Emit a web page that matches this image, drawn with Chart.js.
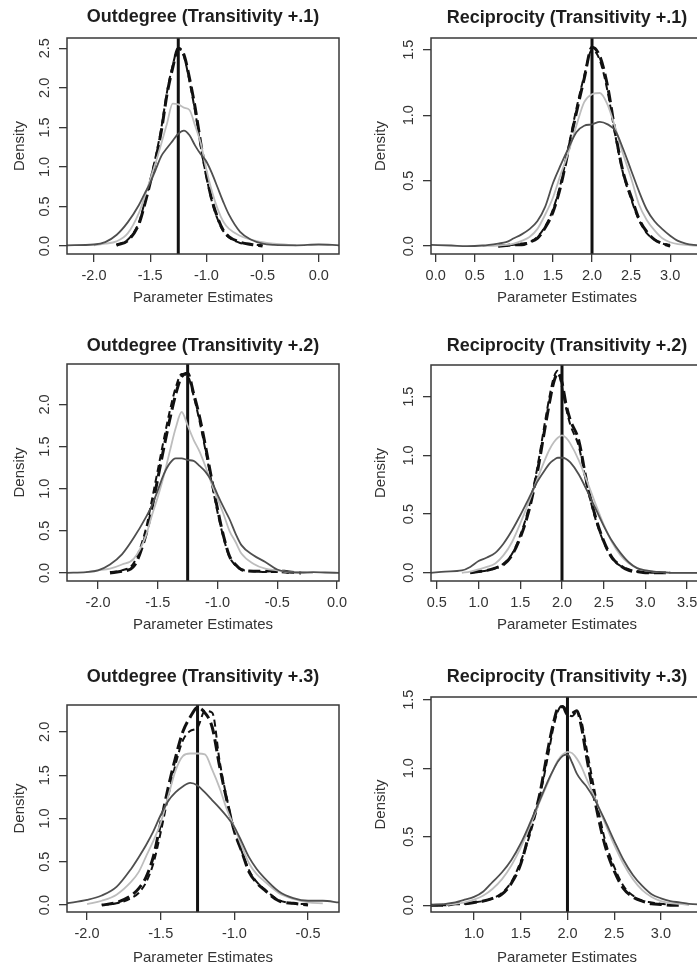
<!DOCTYPE html>
<html lang="en">
<head>
  <meta charset="UTF-8" />
  <title>Parameter estimate densities</title>
  <script src="https://cdn.jsdelivr.net/npm/chart.js"></script>
  <style>
    body { margin: 0; background: #fff; overflow: hidden; width: 697px; height: 969px; position: relative; }
    canvas { position: absolute; }
  </style>
</head>
<body>
  <canvas id="p1" width="360" height="320" style="left:0;top:0"></canvas>
  <canvas id="p2" width="360" height="320" style="left:347px;top:0"></canvas>
  <canvas id="p3" width="360" height="320" style="left:0;top:320px"></canvas>
  <canvas id="p4" width="360" height="320" style="left:347px;top:320px"></canvas>
  <canvas id="p5" width="360" height="329" style="left:0;top:640px"></canvas>
  <canvas id="p6" width="360" height="329" style="left:347px;top:640px"></canvas>

  <script>
    // true parameter values (vertical lines)
    const trueOutdegree = -1.25;
    const trueReciprocity = 2.0;

    const titles = [
      'Outdegree (Transitivity +.1)', 'Reciprocity (Transitivity +.1)',
      'Outdegree (Transitivity +.2)', 'Reciprocity (Transitivity +.2)',
      'Outdegree (Transitivity +.3)', 'Reciprocity (Transitivity +.3)'
    ];

    // Outdegree, transitivity +.1
    const od1X      = [-2.24, -2.0, -1.9, -1.8, -1.7, -1.6, -1.55, -1.5, -1.45, -1.4, -1.35, -1.3, -1.25, -1.2, -1.15, -1.1, -1.05, -1.0, -0.95, -0.9, -0.85, -0.8, -0.7, -0.6, -0.5, -0.4, -0.2, 0.0, 0.18];
    const od1Dark   = [0.01, 0.02, 0.05, 0.14, 0.30, 0.52, 0.66, 0.80, 0.97, 1.14, 1.24, 1.33, 1.42, 1.46, 1.40, 1.27, 1.16, 1.07, 0.92, 0.74, 0.56, 0.40, 0.18, 0.08, 0.03, 0.015, 0.01, 0.02, 0.01];
    const od1Light  = [null, 0.01, 0.03, 0.06, 0.16, 0.42, 0.62, 0.84, 1.06, 1.30, 1.55, 1.80, 1.79, 1.75, 1.72, 1.52, 1.30, 0.97, 0.69, 0.47, 0.31, 0.22, 0.13, 0.08, 0.05, 0.03, 0.01, null, null];
    const od1DashA  = [null, null, null, 0.01, 0.07, 0.28, 0.52, 0.80, 1.10, 1.46, 1.92, 2.25, 2.50, 2.42, 2.12, 1.75, 1.30, 0.90, 0.58, 0.36, 0.20, 0.12, 0.05, 0.02, 0.0, null, null, null, null];
    const od1DashB  = [null, null, null, 0.02, 0.08, 0.30, 0.55, 0.83, 1.14, 1.50, 1.95, 2.28, 2.50, 2.40, 2.08, 1.70, 1.26, 0.88, 0.56, 0.34, 0.19, 0.11, 0.04, 0.02, 0.01, null, null, null, null];

    // Reciprocity, transitivity +.1
    const rc1X      = [-0.06, 0.2, 0.4, 0.6, 0.8, 0.9, 1.0, 1.1, 1.2, 1.3, 1.4, 1.5, 1.6, 1.7, 1.8, 1.9, 2.0, 2.1, 2.2, 2.3, 2.4, 2.5, 2.6, 2.7, 2.8, 2.9, 3.0, 3.1, 3.2, 3.3, 3.42];
    const rc1Dark   = [0.01, 0.005, 0.0, 0.005, 0.02, 0.03, 0.06, 0.09, 0.13, 0.19, 0.30, 0.48, 0.62, 0.75, 0.87, 0.92, 0.93, 0.95, 0.93, 0.88, 0.74, 0.58, 0.42, 0.28, 0.19, 0.13, 0.08, 0.04, 0.02, 0.01, 0.005];
    const rc1Light  = [null, null, null, 0.0, 0.005, 0.01, 0.02, 0.04, 0.07, 0.13, 0.24, 0.37, 0.55, 0.72, 0.92, 1.10, 1.16, 1.17, 1.08, 0.90, 0.70, 0.52, 0.32, 0.20, 0.12, 0.06, 0.03, 0.015, 0.01, 0.005, 0.0];
    const rc1DashA  = [null, null, null, null, 0.0, 0.005, 0.01, 0.01, 0.03, 0.06, 0.14, 0.26, 0.46, 0.74, 1.02, 1.28, 1.52, 1.45, 1.22, 0.86, 0.56, 0.38, 0.21, 0.11, 0.05, 0.02, 0.0, null, null, null, null];
    const rc1DashB  = [null, null, null, null, 0.0, 0.005, 0.01, 0.02, 0.03, 0.07, 0.15, 0.28, 0.48, 0.76, 1.05, 1.30, 1.50, 1.42, 1.18, 0.84, 0.55, 0.36, 0.20, 0.10, 0.05, 0.02, 0.01, null, null, null, null];

    // Outdegree, transitivity +.2
    const od2X      = [-2.26, -2.1, -2.0, -1.9, -1.8, -1.7, -1.6, -1.55, -1.5, -1.45, -1.4, -1.35, -1.3, -1.25, -1.2, -1.15, -1.1, -1.05, -1.0, -0.95, -0.9, -0.85, -0.8, -0.7, -0.6, -0.5, -0.4, -0.3, -0.2, -0.1, 0.02];
    const od2Dark   = [0.0, 0.01, 0.03, 0.10, 0.22, 0.42, 0.66, 0.80, 0.98, 1.17, 1.30, 1.36, 1.36, 1.34, 1.33, 1.27, 1.20, 1.09, 0.93, 0.78, 0.64, 0.47, 0.33, 0.21, 0.13, 0.04, 0.01, 0.005, 0.01, 0.005, 0.0];
    const od2Light  = [null, 0.01, 0.03, 0.05, 0.10, 0.17, 0.44, 0.68, 0.90, 1.15, 1.44, 1.72, 1.91, 1.75, 1.58, 1.44, 1.26, 1.06, 0.88, 0.70, 0.50, 0.37, 0.23, 0.11, 0.05, 0.03, 0.01, 0.005, 0.0, null, null];
    const od2DashA  = [null, null, null, 0.0, 0.02, 0.08, 0.45, 0.76, 1.12, 1.48, 1.82, 2.12, 2.33, 2.37, 2.13, 1.85, 1.50, 1.12, 0.76, 0.44, 0.20, 0.10, 0.04, 0.02, 0.02, 0.03, 0.01, 0.0, null, null, null];
    const od2DashB  = [null, null, null, 0.01, 0.03, 0.12, 0.52, 0.86, 1.22, 1.58, 1.92, 2.20, 2.36, 2.34, 2.10, 1.80, 1.45, 1.08, 0.72, 0.42, 0.19, 0.09, 0.04, 0.02, 0.01, 0.01, 0.0, null, null, null, null];

    // Reciprocity, transitivity +.2
    const rc2X      = [0.43, 0.6, 0.8, 0.9, 1.0, 1.1, 1.2, 1.3, 1.4, 1.5, 1.6, 1.7, 1.8, 1.85, 1.9, 1.95, 2.0, 2.05, 2.1, 2.2, 2.3, 2.4, 2.5, 2.6, 2.7, 2.8, 2.9, 3.0, 3.1, 3.2, 3.3, 3.5, 3.69];
    const rc2Dark   = [0.0, 0.01, 0.02, 0.05, 0.10, 0.13, 0.17, 0.25, 0.36, 0.49, 0.63, 0.77, 0.88, 0.93, 0.96, 0.98, 0.98, 0.97, 0.94, 0.84, 0.70, 0.55, 0.40, 0.27, 0.17, 0.09, 0.04, 0.02, 0.01, 0.005, 0.0, 0.0, 0.0];
    const rc2Light  = [null, null, 0.0, 0.01, 0.03, 0.05, 0.08, 0.15, 0.26, 0.42, 0.60, 0.79, 0.97, 1.05, 1.11, 1.15, 1.17, 1.15, 1.10, 0.96, 0.78, 0.59, 0.41, 0.26, 0.15, 0.08, 0.04, 0.02, 0.01, 0.005, 0.0, 0.0, 0.0];
    const rc2DashA  = [null, null, null, 0.0, 0.01, 0.02, 0.04, 0.07, 0.15, 0.30, 0.52, 0.84, 1.25, 1.45, 1.62, 1.70, 1.62, 1.43, 1.30, 1.13, 0.76, 0.48, 0.27, 0.13, 0.06, 0.02, 0.01, 0.0, 0.0, 0.0, 0.0, null, null];
    const rc2DashB  = [null, null, null, 0.0, 0.01, 0.02, 0.04, 0.08, 0.16, 0.32, 0.55, 0.88, 1.30, 1.50, 1.66, 1.72, 1.58, 1.40, 1.26, 1.08, 0.74, 0.46, 0.26, 0.12, 0.06, 0.03, 0.01, 0.005, 0.0, 0.0, 0.0, null, null];

    // Outdegree, transitivity +.3
    const od3X      = [-2.14, -2.0, -1.9, -1.8, -1.7, -1.65, -1.6, -1.55, -1.5, -1.45, -1.4, -1.35, -1.3, -1.25, -1.2, -1.15, -1.1, -1.05, -1.0, -0.95, -0.9, -0.85, -0.8, -0.7, -0.6, -0.5, -0.4, -0.29];
    const od3Dark   = [0.02, 0.06, 0.11, 0.21, 0.42, 0.55, 0.69, 0.85, 1.04, 1.20, 1.30, 1.37, 1.41, 1.38, 1.30, 1.21, 1.12, 1.02, 0.90, 0.73, 0.55, 0.42, 0.32, 0.16, 0.08, 0.05, 0.05, 0.03];
    const od3Light  = [null, 0.01, 0.05, 0.12, 0.27, 0.38, 0.56, 0.74, 0.95, 1.25, 1.55, 1.72, 1.75, 1.75, 1.74, 1.56, 1.35, 1.10, 0.90, 0.68, 0.48, 0.36, 0.28, 0.14, 0.07, 0.03, 0.02, null];
    const od3DashA  = [null, null, 0.0, 0.03, 0.11, 0.19, 0.32, 0.56, 0.95, 1.35, 1.70, 2.00, 2.17, 2.28, 2.22, 2.05, 1.60, 1.20, 0.85, 0.62, 0.38, 0.26, 0.18, 0.05, 0.02, 0.0, null, null];
    const od3DashB  = [null, null, 0.0, 0.02, 0.08, 0.14, 0.26, 0.48, 0.84, 1.25, 1.62, 1.90, 2.01, 2.05, 2.24, 2.22, 1.66, 1.22, 0.86, 0.62, 0.40, 0.27, 0.19, 0.06, 0.02, 0.01, null, null];

    // Reciprocity, transitivity +.3
    const rc3X      = [0.54, 0.7, 0.8, 0.9, 1.0, 1.1, 1.2, 1.3, 1.4, 1.5, 1.6, 1.7, 1.8, 1.85, 1.9, 1.95, 2.0, 2.05, 2.1, 2.15, 2.2, 2.3, 2.4, 2.5, 2.6, 2.7, 2.8, 2.9, 3.0, 3.1, 3.2, 3.3, 3.45];
    const rc3Dark   = [0.0, 0.01, 0.02, 0.04, 0.06, 0.10, 0.17, 0.24, 0.33, 0.45, 0.60, 0.76, 0.92, 0.99, 1.05, 1.09, 1.10, 1.04, 0.96, 0.91, 0.87, 0.76, 0.62, 0.47, 0.33, 0.22, 0.14, 0.08, 0.05, 0.03, 0.02, 0.01, 0.005];
    const rc3Light  = [null, 0.0, 0.01, 0.02, 0.04, 0.07, 0.12, 0.19, 0.29, 0.42, 0.58, 0.75, 0.91, 0.99, 1.06, 1.10, 1.12, 1.11, 1.07, 1.01, 0.93, 0.77, 0.60, 0.44, 0.30, 0.19, 0.11, 0.06, 0.03, 0.015, 0.01, 0.0, null];
    const rc3DashA  = [0.0, 0.0, 0.01, 0.01, 0.02, 0.03, 0.05, 0.08, 0.16, 0.30, 0.55, 0.80, 1.17, 1.33, 1.44, 1.45, 1.39, 1.40, 1.42, 1.30, 1.10, 0.74, 0.44, 0.25, 0.12, 0.06, 0.03, 0.01, 0.005, 0.0, 0.0, null, null];
    const rc3DashB  = [0.0, 0.0, 0.01, 0.01, 0.02, 0.03, 0.05, 0.09, 0.17, 0.32, 0.52, 0.78, 1.12, 1.30, 1.42, 1.46, 1.40, 1.38, 1.41, 1.34, 1.16, 0.80, 0.48, 0.28, 0.14, 0.07, 0.03, 0.02, 0.01, 0.005, 0.0, null, null];

    // axis ranges [min, max]
    const xRanges = [[-2.24, 0.18], [-0.06, 3.42], [-2.26, 0.017], [0.43, 3.69], [-2.136, -0.29], [0.54, 3.45]];
    const yRanges = [[-0.1, 2.63], [-0.06, 1.59], [-0.096, 2.48], [-0.07, 1.77], [-0.08, 2.31], [-0.05, 1.52]];

    const panels = [
      { x: od1X, dark: od1Dark, light: od1Light, dashA: od1DashA, dashB: od1DashB, truth: trueOutdegree },
      { x: rc1X, dark: rc1Dark, light: rc1Light, dashA: rc1DashA, dashB: rc1DashB, truth: trueReciprocity },
      { x: od2X, dark: od2Dark, light: od2Light, dashA: od2DashA, dashB: od2DashB, truth: trueOutdegree },
      { x: rc2X, dark: rc2Dark, light: rc2Light, dashA: rc2DashA, dashB: rc2DashB, truth: trueReciprocity },
      { x: od3X, dark: od3Dark, light: od3Light, dashA: od3DashA, dashB: od3DashB, truth: trueOutdegree },
      { x: rc3X, dark: rc3Dark, light: rc3Light, dashA: rc3DashA, dashB: rc3DashB, truth: trueReciprocity }
    ];

    // where the plot box sits inside each canvas (px)
    const layouts = [
      { id: 'p1', h: 320, boxLeft: 67, boxRight: 339, boxTop: 38, boxBottom: 254, titleY: 17.5, axisY: 298, densityX: 20 },
      { id: 'p2', h: 320, boxLeft: 84, boxRight: 356, boxTop: 38, boxBottom: 254, titleY: 18.3, axisY: 298, densityX: 34 },
      { id: 'p3', h: 320, boxLeft: 67, boxRight: 339, boxTop: 44, boxBottom: 261, titleY: 26, axisY: 305, densityX: 20 },
      { id: 'p4', h: 320, boxLeft: 84, boxRight: 356, boxTop: 45, boxBottom: 261, titleY: 26, axisY: 305, densityX: 34 },
      { id: 'p5', h: 329, boxLeft: 67, boxRight: 339, boxTop: 65, boxBottom: 272, titleY: 37.3, axisY: 318, densityX: 20 },
      { id: 'p6', h: 329, boxLeft: 84, boxRight: 356, boxTop: 57, boxBottom: 272, titleY: 36.7, axisY: 318, densityX: 34 }
    ];

    const FONT = '"Liberation Sans", Arial, Helvetica, sans-serif';
    Chart.defaults.font.family = FONT;
    Chart.defaults.color = '#333';

    // R-style box and rotated y tick labels
    const rAxisPlugin = {
      id: 'rAxis',
      afterDraw(chart) {
        const { ctx, chartArea: a } = chart;
        const y = chart.scales.y;
        ctx.save();
        ctx.strokeStyle = '#383838';
        ctx.lineWidth = 1.5;
        ctx.strokeRect(a.left, a.top, a.right - a.left, a.bottom - a.top);
        ctx.fillStyle = '#333';
        ctx.font = '14.5px ' + FONT;
        ctx.textAlign = 'center';
        ctx.textBaseline = 'middle';
        y.ticks.forEach(t => {
          ctx.save();
          ctx.translate(a.left - 22, y.getPixelForValue(t.value));
          ctx.rotate(-Math.PI / 2);
          ctx.fillText(t.value.toFixed(1), 0, 0);
          ctx.restore();
        });
        ctx.restore();
      }
    };

    function makePanel(i) {
      const p = panels[i];
      const lay = layouts[i];
      const canvas = document.getElementById(lay.id);
      const pts = ys => p.x.map((xv, k) => ({ x: xv, y: ys[k] }));
      const [yMin, yMax] = yRanges[i];
      const tickGrid = { drawOnChartArea: false, drawTicks: true, tickLength: 8, color: '#383838', lineWidth: 1.3 };

      new Chart(canvas, {
        type: 'line',
        data: {
          datasets: [
            { data: pts(p.dark), borderColor: '#4f4f4f', borderWidth: 1.8 },
            { data: pts(p.light), borderColor: '#bdbdbd', borderWidth: 1.8 },
            { data: pts(p.dashB), borderColor: '#111', borderWidth: 2, borderDash: [7, 4] },
            { data: pts(p.dashA), borderColor: '#111', borderWidth: 3, borderDash: [12, 5] },
            { data: [{ x: p.truth, y: yMin }, { x: p.truth, y: yMax }], borderColor: '#111', borderWidth: 3, cubicInterpolationMode: 'default' }
          ]
        },
        options: {
          responsive: false,
          animation: false,
          events: [],
          cubicInterpolationMode: 'monotone',
          elements: { point: { radius: 0 } },
          layout: { padding: { left: 0, top: 0, bottom: 0, right: canvas.width - lay.boxRight } },
          plugins: {
            legend: { display: false },
            tooltip: { enabled: false },
            title: {
              display: true,
              text: titles[i],
              fullSize: false,
              color: '#1e1e1e',
              font: { size: 18, weight: 'bold' },
              padding: { top: lay.titleY - 10.8, bottom: lay.boxTop - lay.titleY - 10.8 }
            }
          },
          scales: {
            x: {
              type: 'linear',
              min: xRanges[i][0],
              max: xRanges[i][1],
              afterFit: s => { s.height = lay.h - lay.boxBottom; s.paddingLeft = 0; s.paddingRight = 0; },
              border: { display: false },
              grid: tickGrid,
              ticks: {
                stepSize: 0.5, includeBounds: false, autoSkip: false, maxRotation: 0,
                padding: 5, font: { size: 14.5 }, color: '#333',
                callback: v => v.toFixed(1)
              },
              title: {
                display: true, text: 'Parameter Estimates', color: '#333',
                font: { size: 15 }, padding: { top: 0, bottom: lay.h - 9 - lay.axisY }
              }
            },
            y: {
              min: yMin,
              max: yMax,
              afterFit: s => { s.width = lay.boxLeft; s.paddingTop = 0; s.paddingBottom = 0; },
              border: { display: false },
              grid: tickGrid,
              ticks: { display: false, stepSize: 0.5, includeBounds: false },
              title: {
                display: true, text: 'Density', color: '#333',
                font: { size: 15 }, padding: { top: lay.densityX - 9, bottom: 0 }
              }
            }
          }
        },
        plugins: [rAxisPlugin]
      });
    }

    panels.forEach((p, i) => makePanel(i));
  </script>
</body>
</html>
